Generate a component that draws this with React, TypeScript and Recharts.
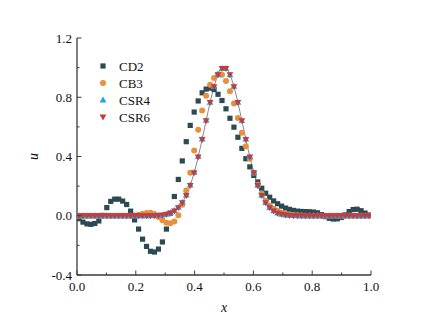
import { ComposedChart, Line, Scatter, XAxis, YAxis } from "recharts";

// grid points (cell centres)
const xs = [
  0.0068, 0.0203, 0.0338, 0.0473, 0.0608, 0.0743, 0.0878, 0.1014, 0.1149, 0.1284,
  0.1419, 0.1554, 0.1689, 0.1824, 0.1959, 0.2095, 0.223, 0.2365, 0.25, 0.2635,
  0.277, 0.2905, 0.3041, 0.3176, 0.3311, 0.3446, 0.3581, 0.3716, 0.3851, 0.3986,
  0.4122, 0.4257, 0.4392, 0.4527, 0.4662, 0.4797, 0.4932, 0.5068, 0.5203, 0.5338,
  0.5473, 0.5608, 0.5743, 0.5878, 0.6014, 0.6149, 0.6284, 0.6419, 0.6554, 0.6689,
  0.6824, 0.6959, 0.7095, 0.723, 0.7365, 0.75, 0.7635, 0.777, 0.7905, 0.8041,
  0.8176, 0.8311, 0.8446, 0.8581, 0.8716, 0.8851, 0.8986, 0.9122, 0.9257, 0.9392,
  0.9527, 0.9662, 0.9797, 0.9932,
];

const exact = [
  0, 0, 0, 0, 0, 0, 0, 0, 0, 0,
  0, 0, 0, 0, 0, 0, 0, 0, 0, 0.001,
  0.003, 0.005, 0.01, 0.018, 0.033, 0.055, 0.089, 0.138, 0.205, 0.291,
  0.397, 0.516, 0.642, 0.765, 0.872, 0.952, 0.995, 0.995, 0.952, 0.872,
  0.765, 0.642, 0.516, 0.397, 0.291, 0.205, 0.138, 0.089, 0.055, 0.033,
  0.018, 0.01, 0.005, 0.003, 0.001, 0, 0, 0, 0, 0,
  0, 0, 0, 0, 0, 0, 0, 0, 0, 0,
  0, 0, 0, 0,
];

const cd2 = [
  -0.02, -0.043, -0.055, -0.058, -0.052, -0.035, 0.002, 0.055, 0.097, 0.112,
  0.112, 0.099, 0.076, 0.031, -0.028, -0.09, -0.158, -0.207, -0.24, -0.245,
  -0.225, -0.177, -0.09, 0.018, 0.13, 0.245, 0.37, 0.5, 0.61, 0.7,
  0.775, 0.83, 0.855, 0.862, 0.852, 0.82, 0.778, 0.722, 0.658, 0.598,
  0.53, 0.455, 0.385, 0.33, 0.272, 0.228, 0.186, 0.152, 0.125, 0.1,
  0.081, 0.065, 0.052, 0.043, 0.036, 0.031, 0.029, 0.028, 0.027, 0.025,
  0.02, 0.008, -0.006, -0.017, -0.022, -0.021, -0.012, 0.006, 0.028, 0.042,
  0.044, 0.034, 0.018, 0.005,
];

const cb3 = [
  0, 0, 0, 0, 0, 0, 0, 0, 0, 0,
  0, 0, 0, 0, 0.002, 0.006, 0.013, 0.019, 0.02, 0.012,
  -0.008, -0.03, -0.048, -0.05, -0.038, 0.003, 0.075, 0.17, 0.29, 0.44,
  0.58, 0.71, 0.81, 0.885, 0.93, 0.955, 0.952, 0.91, 0.84, 0.758,
  0.66, 0.56, 0.47, 0.385, 0.29, 0.21, 0.148, 0.102, 0.07, 0.048,
  0.032, 0.022, 0.014, 0.009, 0.005, 0.003, 0.001, 0, 0, 0,
  0, 0, 0, 0, 0, 0, 0, 0, 0, 0,
  0, 0, 0, 0,
];

const csr4 = [
  0, 0, 0, 0, 0, 0, 0, 0, 0, 0,
  0, 0, 0, 0, 0, 0, 0, 0, 0, 0.001,
  0.003, 0.005, 0.01, 0.019, 0.034, 0.056, 0.09, 0.14, 0.207, 0.293,
  0.399, 0.518, 0.644, 0.766, 0.872, 0.951, 0.993, 0.994, 0.952, 0.873,
  0.766, 0.643, 0.517, 0.398, 0.291, 0.205, 0.138, 0.089, 0.055, 0.033,
  0.018, 0.01, 0.005, 0.002, 0.001, 0, 0, 0, 0, 0,
  0, 0, 0, 0, 0, 0, 0, 0, 0, 0,
  0, 0, 0, 0,
];

const csr6 = [
  0, 0, 0, 0, 0, 0, 0, 0, 0, 0,
  0, 0, 0, 0, 0, 0, 0, 0, 0, 0.001,
  0.003, 0.005, 0.01, 0.018, 0.033, 0.055, 0.089, 0.138, 0.205, 0.291,
  0.397, 0.516, 0.642, 0.765, 0.872, 0.952, 0.995, 0.995, 0.952, 0.872,
  0.765, 0.642, 0.516, 0.397, 0.291, 0.205, 0.138, 0.089, 0.055, 0.033,
  0.018, 0.01, 0.005, 0.003, 0.001, 0, 0, 0, 0, 0,
  0, 0, 0, 0, 0, 0, 0, 0, 0, 0,
  0, 0, 0, 0,
];

const xTicks = [0, 0.1, 0.2, 0.3, 0.4, 0.5, 0.6, 0.7, 0.8, 0.9, 1];
const yTicks = [-0.4, -0.2, 0, 0.2, 0.4, 0.6, 0.8, 1, 1.2];

const FONT = '"Liberation Serif", "Times New Roman", serif';
const AXIS = "#3a3a3a";
const C_CD2 = "#2c4a54";
const C_CB3 = "#e8913c";
const C_CSR4 = "#1ca8de";
const C_CSR6 = "#c43c40";

const rows = xs.map((x, i) => ({
  x,
  exact: exact[i],
  cd2: cd2[i],
  cb3: cb3[i],
  csr4: csr4[i],
  csr6: csr6[i],
}));

const xMajor = (v: number) => Math.round(v * 10) % 2 === 0;
const yMajor = (v: number) => Math.round(v * 10) % 4 === 0;

function BottomTick({ x, y, payload }: any) {
  const major = xMajor(payload.value);
  return (
    <g>
      <line x1={x} y1={y} x2={x} y2={y - (major ? 4.5 : 2.5)} stroke={AXIS} />
      {major && (
        <text x={x} y={y + 16} textAnchor="middle" fontFamily={FONT} fontSize={13} fill="#111">
          {payload.value.toFixed(1)}
        </text>
      )}
    </g>
  );
}

function TopTick({ x, y, payload }: any) {
  const major = xMajor(payload.value);
  return <line x1={x} y1={y} x2={x} y2={y + (major ? 4.5 : 2.5)} stroke={AXIS} />;
}

function LeftTick({ x, y, payload }: any) {
  const major = yMajor(payload.value);
  return (
    <g>
      <line x1={x} y1={y} x2={x + (major ? 4.5 : 2.5)} y2={y} stroke={AXIS} />
      {major && (
        <text x={x - 5} y={y + 4.5} textAnchor="end" fontFamily={FONT} fontSize={13} fill="#111">
          {payload.value.toFixed(1)}
        </text>
      )}
    </g>
  );
}

function RightTick({ x, y, payload }: any) {
  const major = yMajor(payload.value);
  return <line x1={x} y1={y} x2={x - (major ? 4.5 : 2.5)} y2={y} stroke={AXIS} />;
}

const square = (color: string) => ({ cx, cy }: any) => (
  <rect x={cx - 2.6} y={cy - 2.6} width={5.2} height={5.2} fill={color} />
);
const circle = (color: string) => ({ cx, cy }: any) => <circle cx={cx} cy={cy} r={3} fill={color} />;
const triUp = (color: string) => ({ cx, cy }: any) => (
  <polygon points={`${cx},${cy - 3.6} ${cx - 3.4},${cy + 2.4} ${cx + 3.4},${cy + 2.4}`} fill={color} />
);
const triDown = (color: string) => ({ cx, cy }: any) => (
  <polygon points={`${cx - 3.4},${cy - 2.4} ${cx + 3.4},${cy - 2.4} ${cx},${cy + 3.6}`} fill={color} />
);

const legendItems = [
  { name: "CD2", shape: square(C_CD2) },
  { name: "CB3", shape: circle(C_CB3) },
  { name: "CSR4", shape: triUp(C_CSR4) },
  { name: "CSR6", shape: triDown(C_CSR6) },
];

export default function App() {
  return (
    <div style={{ position: "absolute", left: 0, top: 0, width: 431, height: 330, background: "#fff" }}>
      <ComposedChart
        width={431}
        height={330}
        data={rows}
        margin={{ top: 38, right: 60, bottom: 25, left: 17 }}
      >
        <XAxis
          dataKey="x"
          type="number"
          domain={[0, 1]}
          ticks={xTicks}
          interval={0}
          height={30}
          tickSize={0}
          tickMargin={0}
          tick={BottomTick}
          axisLine={{ stroke: AXIS, strokeWidth: 1.3 }}
          allowDataOverflow
          label={{
            content: ({ viewBox }: any) => (
              <text
                x={viewBox.x + viewBox.width / 2}
                y={viewBox.y + 37}
                textAnchor="middle"
                fontFamily={FONT}
                fontStyle="italic"
                fontSize={14}
                fill="#111"
              >
                x
              </text>
            ),
          }}
        />
        <XAxis
          xAxisId="top"
          orientation="top"
          type="number"
          domain={[0, 1]}
          ticks={xTicks}
          interval={0}
          height={0}
          tickSize={0}
          tickMargin={0}
          tick={TopTick}
          axisLine={{ stroke: AXIS, strokeWidth: 1.3 }}
          allowDataOverflow
        />
        <YAxis
          type="number"
          domain={[-0.4, 1.2]}
          ticks={yTicks}
          interval={0}
          width={60}
          tickSize={0}
          tickMargin={0}
          tick={LeftTick}
          axisLine={{ stroke: AXIS, strokeWidth: 1.3 }}
          allowDataOverflow
          label={{
            content: ({ viewBox }: any) => {
              const cx = viewBox.x + 16;
              const cy = viewBox.y + viewBox.height / 2;
              return (
                <text
                  x={cx}
                  y={cy}
                  transform={`rotate(-90 ${cx} ${cy})`}
                  textAnchor="middle"
                  dominantBaseline="central"
                  fontFamily={FONT}
                  fontStyle="italic"
                  fontSize={14}
                  fill="#111"
                >
                  u
                </text>
              );
            },
          }}
        />
        <YAxis
          yAxisId="right"
          orientation="right"
          type="number"
          domain={[-0.4, 1.2]}
          ticks={yTicks}
          interval={0}
          width={0}
          tickSize={0}
          tickMargin={0}
          tick={RightTick}
          axisLine={{ stroke: AXIS, strokeWidth: 1.3 }}
          allowDataOverflow
        />
        <Scatter dataKey="cd2" shape={square(C_CD2)} isAnimationActive={false} />
        <Scatter dataKey="cb3" shape={circle(C_CB3)} isAnimationActive={false} />
        <Scatter dataKey="csr4" shape={triUp(C_CSR4)} isAnimationActive={false} />
        <Scatter dataKey="csr6" shape={triDown(C_CSR6)} isAnimationActive={false} />
        <Line
          dataKey="exact"
          type="monotone"
          stroke="#8a8a8a"
          strokeWidth={1}
          dot={false}
          isAnimationActive={false}
        />
      </ComposedChart>
      <div style={{ position: "absolute", left: 95, top: 57 }}>
        <svg width={80} height={70}>
          {legendItems.map((it, i) => (
            <g key={it.name}>
              {it.shape({ cx: 8, cy: 9 + i * 17 })}
              <text x={24} y={9 + i * 17} dominantBaseline="central" fontFamily={FONT} fontSize={13} fill="#111">
                {it.name}
              </text>
            </g>
          ))}
        </svg>
      </div>
    </div>
  );
}
